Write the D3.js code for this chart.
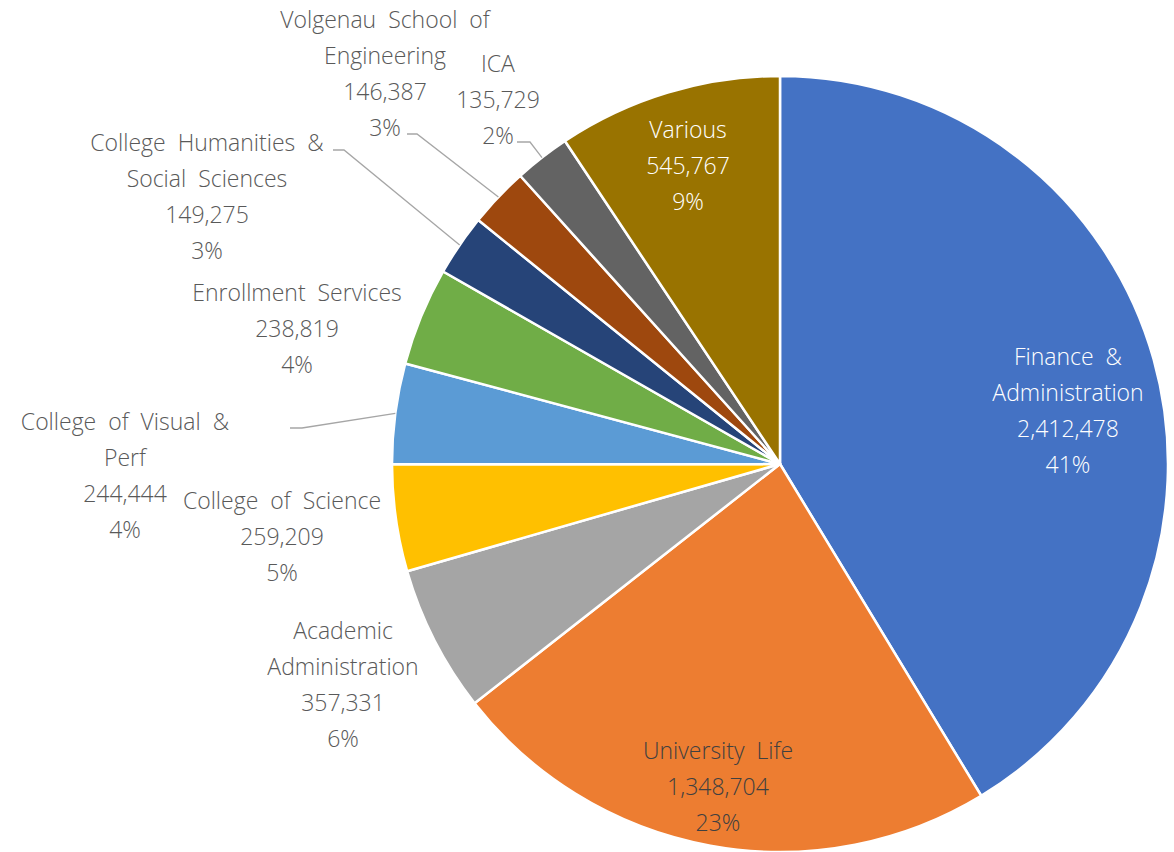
<!DOCTYPE html>
<html>
<head>
<meta charset="utf-8">
<script src="https://cdn.jsdelivr.net/npm/d3@7"></script>
<style>
  html, body { margin: 0; padding: 0; background: #fff; }
  svg text { font-family: "Segoe UI", "Open Sans", sans-serif; font-weight: 300; font-size: 23px; word-spacing: 6px; }
</style>
</head>
<body>
<svg id="chart" width="1174" height="852"></svg>
<script>
// data, clockwise from 12 o'clock
const categories = [
  'Finance & Administration', 'University Life', 'Academic Administration',
  'College of Science', 'College of Visual & Perf', 'Enrollment Services',
  'College Humanities & Social Sciences', 'Volgenau School of Engineering',
  'ICA', 'Various'
];
const values = [2412478, 1348704, 357331, 259209, 244444, 238819, 149275, 146387, 135729, 545767];
const percentLabels = ['41%', '23%', '6%', '5%', '4%', '4%', '3%', '3%', '2%', '9%'];
const nameLines = [
  ['Finance &', 'Administration'], ['University Life'], ['Academic', 'Administration'],
  ['College of Science'], ['College of Visual &', 'Perf'], ['Enrollment Services'],
  ['College Humanities &', 'Social Sciences'], ['Volgenau School of', 'Engineering'],
  ['ICA'], ['Various']
];
const colors = ['#4472C4', '#ED7D31', '#A5A5A5', '#FFC000', '#5B9BD5', '#70AD47',
  '#264478', '#9E480E', '#636363', '#997300'];

// layout: label centre x, first baseline y, text colour, optional leader [x0, x1, y]
const labelLayout = {
  'Finance & Administration': { x: 1068, y: 365, fill: '#ffffff' },
  'University Life': { x: 718, y: 759, fill: '#404040' },
  'Academic Administration': { x: 343, y: 639, fill: '#595959' },
  'College of Science': { x: 282, y: 509, fill: '#595959' },
  'College of Visual & Perf': { x: 125, y: 430, fill: '#595959', leader: [290, 302, 428] },
  'Enrollment Services': { x: 297, y: 301, fill: '#595959' },
  'College Humanities & Social Sciences': { x: 207, y: 151, fill: '#595959', leader: [333, 344, 150] },
  'Volgenau School of Engineering': { x: 385, y: 28, fill: '#595959', leader: [407, 417, 134] },
  'ICA': { x: 498, y: 72, fill: '#595959', leader: [517, 530, 142] },
  'Various': { x: 688, y: 138, fill: '#ffffff' }
};

const cx = 780, cy = 464, radius = 388, lineHeight = 36;

const svg = d3.select('#chart');
const g = svg.append('g').attr('transform', `translate(${cx},${cy})`);

const pie = d3.pie().sort(null).value(d => d.value);
const arc = d3.arc().innerRadius(0).outerRadius(radius);
const edge = d3.arc().innerRadius(radius).outerRadius(radius);
const fmt = d3.format(',');

const rows = categories.map((c, i) => ({
  name: c, value: values[i], pct: percentLabels[i], lines: nameLines[i], color: colors[i]
}));
const arcs = pie(rows);

g.selectAll('path.slice')
  .data(arcs)
  .enter()
  .append('path')
  .attr('class', 'slice')
  .attr('d', arc)
  .attr('fill', d => d.data.color)
  .attr('stroke', '#fff')
  .attr('stroke-width', 2.5)
  .attr('stroke-linejoin', 'round');

// leader lines
svg.append('g')
  .selectAll('path')
  .data(arcs.filter(d => labelLayout[d.data.name].leader))
  .enter()
  .append('path')
  .attr('fill', 'none')
  .attr('stroke', '#a6a6a6')
  .attr('stroke-width', 1.3)
  .attr('d', d => {
    const [x0, x1, y] = labelLayout[d.data.name].leader;
    const [ex, ey] = edge.centroid(d);
    return `M${x0},${y} L${x1},${y} L${cx + ex},${cy + ey}`;
  });

// labels
const labels = svg.append('g')
  .selectAll('text')
  .data(arcs)
  .enter()
  .append('text')
  .attr('text-anchor', 'middle')
  .attr('fill', d => labelLayout[d.data.name].fill);

labels.each(function(d) {
  const pos = labelLayout[d.data.name];
  const lines = d.data.lines.concat([fmt(d.data.value), d.data.pct]);
  d3.select(this)
    .selectAll('tspan')
    .data(lines)
    .enter()
    .append('tspan')
    .attr('x', pos.x)
    .attr('y', (t, i) => pos.y + i * lineHeight)
    .text(t => t);
});
</script>
</body>
</html>
